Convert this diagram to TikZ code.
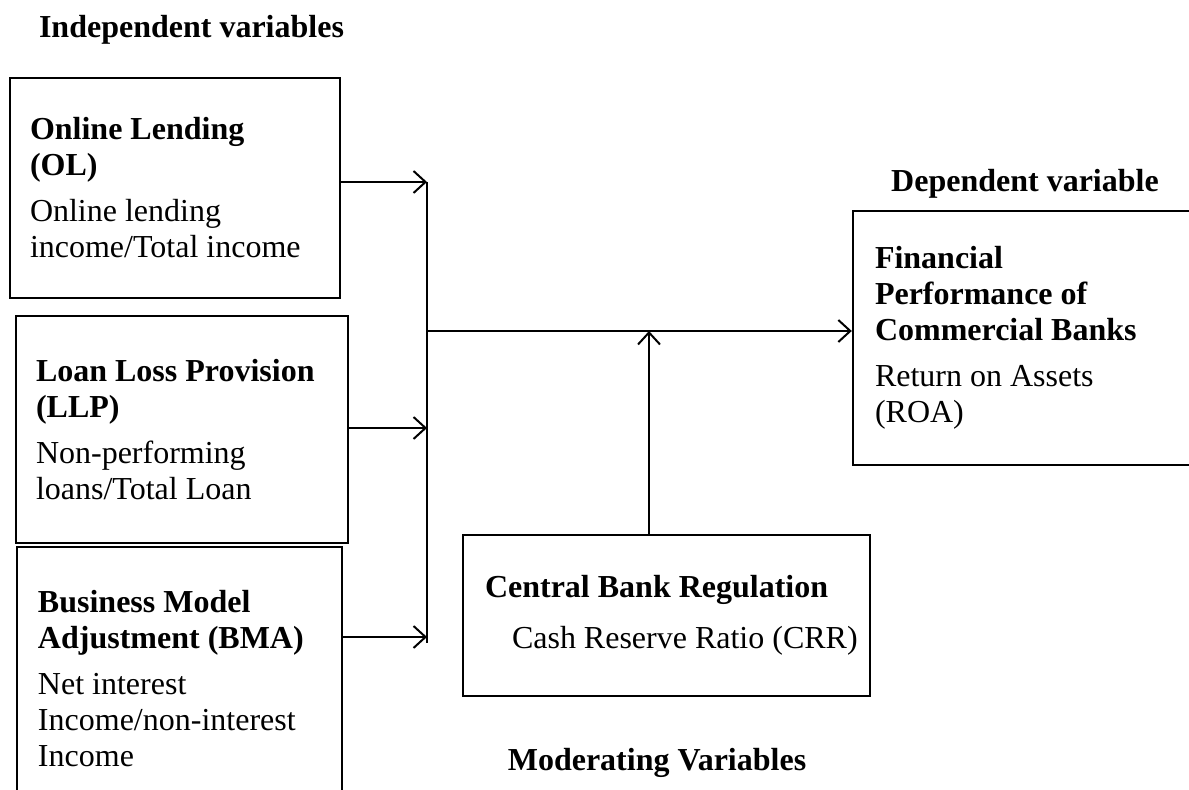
\documentclass[tikz,border=0pt]{standalone}
\usepackage{fontspec}
\setmainfont{Liberation Serif}
\usetikzlibrary{arrows.meta,positioning}

\begin{document}
\begin{tikzpicture}[x=0.5pt, y=-0.5pt, font=\fontsize{16}{18}\selectfont,
    box/.style={draw, rectangle, line width=1.2pt, align=flush left, inner ysep=0pt},
    head/.style={font=\fontsize{16}{18}\selectfont\bfseries},
    link/.style={-{Straight Barb[length=6pt, width=11pt]}, line width=1pt}]
    \useasboundingbox (0,0) rectangle (1189,790);

    \node[head] (indep) at (191.5,30) {Independent variables};
    \node[head] (dep) at (1025,184) {Dependent variable};
    \node[head] (moder) at (657,763) {Moderating Variables};

    \node[box, inner xsep=10pt, text width=145pt, minimum height=110pt] (ol) at (175,188)
        {\textbf{Online Lending}\\\textbf{(OL)}\\[5pt]Online lending\\income/Total income};
    \node[box, inner xsep=10pt, text width=146pt, minimum height=113.5pt] (llp) at (182,429.5)
        {\textbf{Loan Loss Provision}\\\textbf{(LLP)}\\[5pt]Non-performing\\loans/Total Loan};
    \node[box, inner xsep=10.5pt, text width=141.5pt, minimum height=131.5pt] (bma) at (179.5,678.5)
        {\textbf{Business Model}\\\textbf{Adjustment (BMA)}\\[5pt]Net interest\\Income/non-interest\\Income};
    \node[box, inner xsep=11pt, text width=149pt, minimum height=127pt] (perf) at (1024,338)
        {\textbf{Financial}\\\textbf{Performance of}\\\textbf{Commercial Banks}\\[5pt]Return on Assets\\(ROA)};
    \node[box, inner xsep=11pt, text width=181.5pt, minimum height=80.5pt] (crb) at (666.5,615.5)
        {\textbf{Central Bank Regulation}\\[7.5pt]\mbox{\hspace{13.5pt}Cash Reserve Ratio (CRR)}};

    \coordinate (top) at (427,182);
    \coordinate (bot) at (427,643);
    \coordinate (j2) at (427,428);
    \coordinate (j3) at (427,637);
    \coordinate (hub) at (427,331);
    \coordinate (mid) at (649,331);

    \draw[line width=0.8pt] (top) -- (bot);
    \draw[link] (ol.east |- top) -- (top);
    \draw[link] (llp.east |- j2) -- (j2);
    \draw[link] (bma.east |- j3) -- (j3);
    \draw[link] (hub) -- (perf.west |- hub);
    \draw[link] (crb.north -| mid) -- (mid);
\end{tikzpicture}
\end{document}
